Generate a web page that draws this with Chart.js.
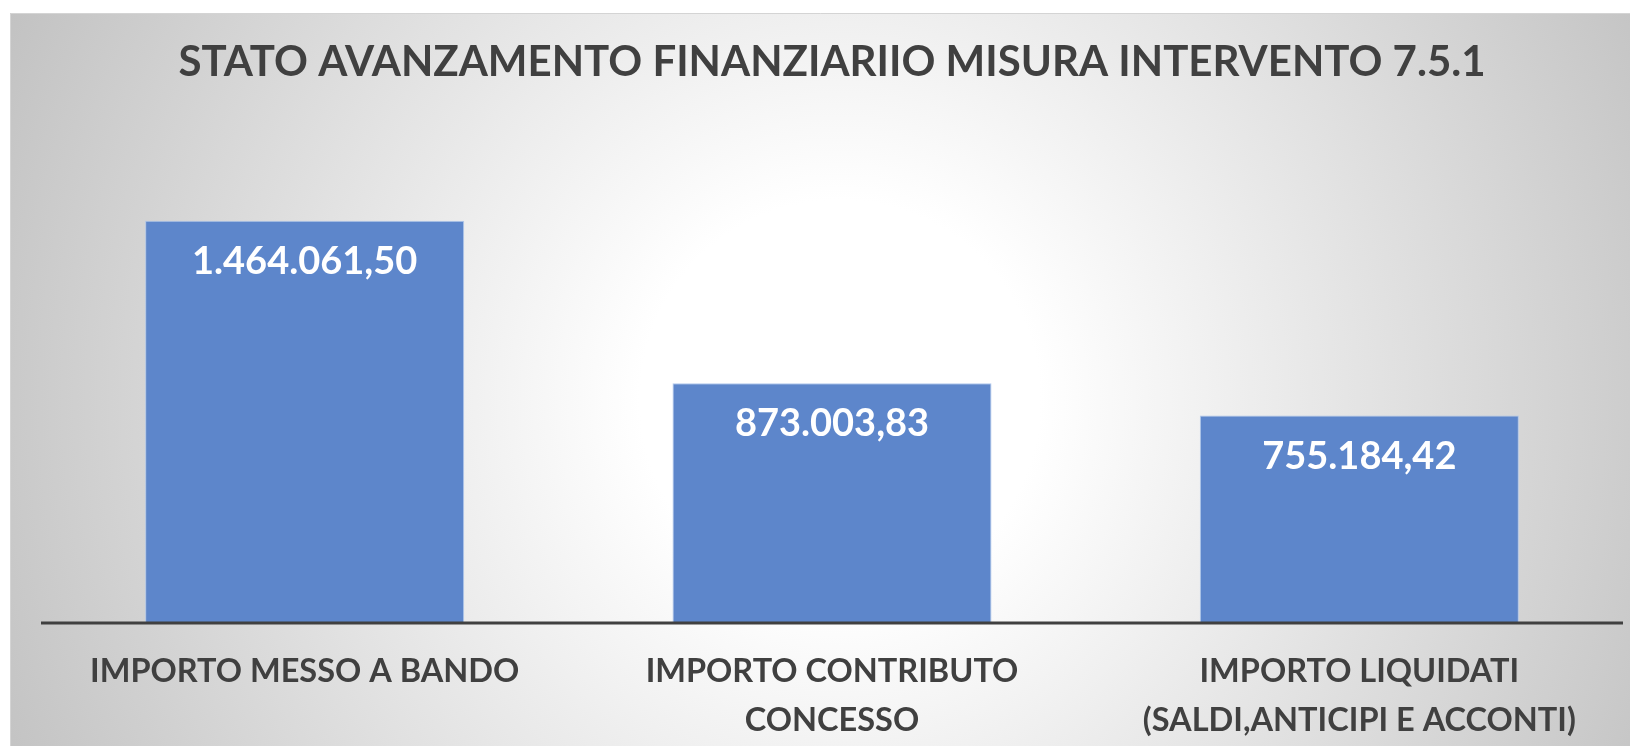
<!DOCTYPE html>
<html>
<head>
<meta charset="utf-8">
<script src="https://cdn.jsdelivr.net/npm/chart.js@4.4.1/dist/chart.umd.min.js"></script>
<style>
  html, body { margin: 0; padding: 0; background: #ffffff; }
  #wrap { width: 1630px; height: 746px; }
</style>
</head>
<body>
<div id="wrap"><canvas id="c" width="1630" height="746"></canvas></div>
<script>
const chartTitle = 'STATO AVANZAMENTO FINANZIARIIO MISURA INTERVENTO 7.5.1';
const categories = [
  ['IMPORTO MESSO A BANDO'],
  ['IMPORTO CONTRIBUTO', 'CONCESSO'],
  ['IMPORTO LIQUIDATI', '(SALDI,ANTICIPI E ACCONTI)']
];
const values = [1464061.50, 873003.83, 755184.42];
const axisMin = 0;
const axisMax = 1600000;

function fmtIt(v) {
  const parts = v.toFixed(2).split('.');
  const intPart = parts[0].replace(/\B(?=(\d{3})+(?!\d))/g, '.');
  return intPart + ',' + parts[1];
}

const bgPlugin = {
  id: 'bgPanel',
  beforeDraw(chart) {
    const ctx = chart.ctx;
    ctx.save();
    ctx.fillStyle = '#ffffff';
    ctx.fillRect(0, 0, chart.width, chart.height);
    const x0 = 10, y0 = 13;
    const g = ctx.createRadialGradient(840, 400, 0, 840, 400, 1000);
    g.addColorStop(0, '#ffffff');
    g.addColorStop(0.2, '#ffffff');
    g.addColorStop(1, '#bbbbbb');
    ctx.fillStyle = g;
    ctx.fillRect(x0, y0, chart.width - x0, chart.height - y0);
    ctx.strokeStyle = '#d4d4d4';
    ctx.lineWidth = 1;
    ctx.beginPath();
    ctx.moveTo(x0 + 0.5, chart.height);
    ctx.lineTo(x0 + 0.5, y0 + 0.5);
    ctx.lineTo(chart.width, y0 + 0.5);
    ctx.stroke();
    ctx.restore();
  }
};

const labelPlugin = {
  id: 'barValues',
  afterDatasetsDraw(chart) {
    const ctx = chart.ctx;
    const meta = chart.getDatasetMeta(0);
    ctx.save();
    ctx.fillStyle = '#ffffff';
    ctx.font = 'bold 38px Lato';
    ctx.textAlign = 'center';
    ctx.textBaseline = 'middle';
    meta.data.forEach((bar, i) => {
      ctx.fillText(fmtIt(values[i]), bar.x, bar.y + 41);
    });
    ctx.restore();
  }
};

const axisLinePlugin = {
  id: 'axisLine',
  afterDatasetsDraw(chart) {
    const ctx = chart.ctx;
    const a = chart.chartArea;
    ctx.save();
    ctx.strokeStyle = '#404040';
    ctx.lineWidth = 3;
    ctx.beginPath();
    ctx.moveTo(a.left, a.bottom);
    ctx.lineTo(a.right, a.bottom);
    ctx.stroke();
    ctx.restore();
  }
};

new Chart(document.getElementById('c'), {
  type: 'bar',
  data: {
    labels: categories,
    datasets: [{
      data: values,
      backgroundColor: '#5d86cb',
      borderColor: 'rgba(170,195,235,0.9)',
      borderWidth: 1,
      barPercentage: 0.605,
      categoryPercentage: 1.0
    }]
  },
  options: {
    responsive: false,
    animation: false,
    devicePixelRatio: 1,
    layout: { padding: { left: 41, right: 7, top: 0, bottom: 0 } },
    plugins: {
      legend: { display: false },
      tooltip: { enabled: false },
      title: {
        display: true,
        text: chartTitle,
        color: '#404040',
        font: { family: 'Lato', size: 42, weight: 'bold', lineHeight: 1.2 },
        padding: { top: 37, bottom: 96 }
      }
    },
    scales: {
      x: {
        grid: { display: false, drawTicks: false },
        border: { display: false },
        afterFit(scale) { scale.height = 123; },
        ticks: {
          color: '#404040',
          font: { family: 'Lato', size: 32.5, weight: 'bold', lineHeight: 1.51 },
          padding: 23.5,
          maxRotation: 0,
          autoSkip: false
        }
      },
      y: {
        display: false,
        min: axisMin,
        max: axisMax
      }
    }
  },
  plugins: [bgPlugin, labelPlugin, axisLinePlugin]
});
</script>
</body>
</html>
